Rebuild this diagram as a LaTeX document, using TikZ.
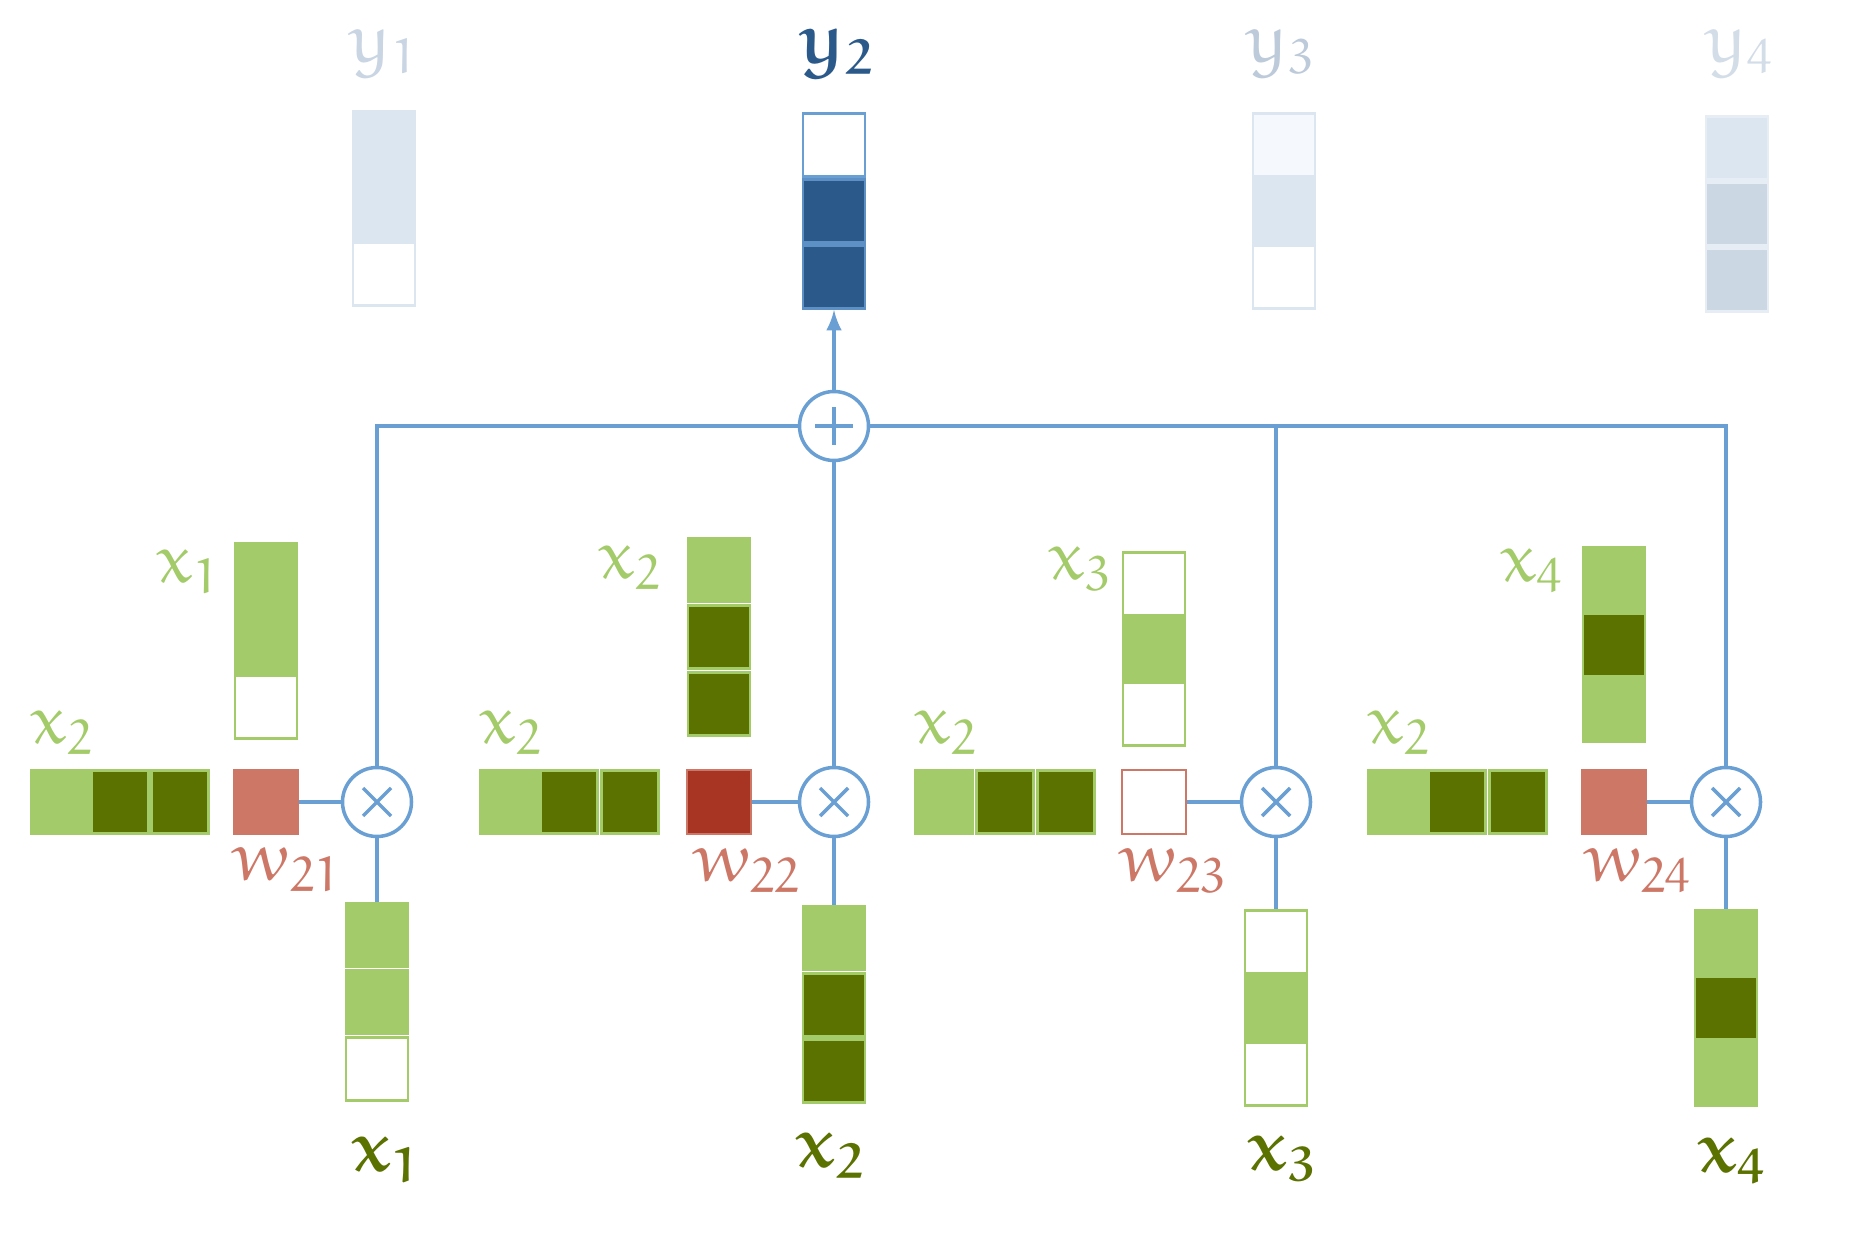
\documentclass[tikz,border=0pt]{standalone}
\usepackage{euler}
\usepackage{tikz}
\usetikzlibrary{arrows}
\usetikzlibrary{positioning}
\definecolor{lightG}{HTML}{A3CB69}
\definecolor{darkG}{HTML}{5B7100}
\definecolor{wireB}{HTML}{6A9FD4}
\definecolor{darkB}{HTML}{2B5A8A}
\definecolor{paleB}{HTML}{DCE6F1}
\definecolor{grayB}{HTML}{CBD7E3}
\definecolor{faintB}{HTML}{F5F9FD}
\definecolor{salmon}{HTML}{CD7767}
\definecolor{brick}{HTML}{A83424}
\definecolor{fadeA}{HTML}{C9D5E3}
\definecolor{fadeB}{HTML}{BCCAD9}
\definecolor{fadeC}{HTML}{D3DDE8}
\tikzset{cell/.style={rectangle,inner sep=0pt,minimum width=.62cm,minimum height=.63cm,line width=.8pt},
		lightCell/.style={cell,fill=lightG,draw=lightG},
		darkCell/.style={cell,fill=darkG,draw=lightG},
		emptyCell/.style={cell,fill=white,draw=lightG},
		hLight/.style={lightCell,minimum width=.57cm},
		hDark/.style={darkCell,minimum width=.57cm},
		weight/.style={rectangle,inner sep=0pt,minimum size=.64cm,line width=.8pt,draw=salmon},
		outCell/.style={cell,draw=paleB},
		mult/.style={circle,draw=wireB,fill=white,line width=1pt,minimum size=.69cm,inner sep=0pt,
			path picture={\draw[wireB,line width=1pt] (path picture bounding box.center) ++(-.14,-.14) -- ++(.28,.28)
				(path picture bounding box.center) ++(-.14,.14) -- ++(.28,-.28);}},
		sum/.style={mult,path picture={\draw[wireB,line width=1pt] (path picture bounding box.center) ++(-.19,0) -- ++(.38,0)
				(path picture bounding box.center) ++(0,-.19) -- ++(0,.38);}},
		wire/.style={draw=wireB,line width=1pt},
		lab/.style={inner sep=0pt,font=\fontsize{20}{24}\selectfont},
		boldLab/.style={inner sep=0pt,font=\fontsize{20}{24}\selectfont\boldmath}}
\begin{document}
\begin{tikzpicture}
	\useasboundingbox (0,0) rectangle (18.54,12.38);
	%outputs
	\node at (3.84,10.95) [outCell,fill=paleB] (y11){};
	\node at (3.84,10.29) [outCell,fill=paleB] (y12){};
	\node at (3.84,9.64) [outCell,fill=white] (y13){};
	\node at (8.34,10.93) [outCell,fill=white,draw=wireB] (y21){};
	\node at (8.34,10.27) [outCell,fill=darkB,draw=wireB!80!darkB] (y22){};
	\node at (8.34,9.61) [outCell,fill=darkB,draw=wireB!80!darkB] (y23){};
	\node at (12.84,10.93) [outCell,fill=faintB] (y31){};
	\node at (12.84,10.27) [outCell,fill=paleB] (y32){};
	\node at (12.84,9.61) [outCell,fill=white] (y33){};
	\node at (17.37,10.90) [outCell,fill=paleB,draw=paleB!70] (y41){};
	\node at (17.37,10.24) [outCell,fill=grayB,draw=paleB!70] (y42){};
	\node at (17.37,9.58) [outCell,fill=grayB,draw=paleB!70] (y43){};
	\node at (3.84,11.85) [lab,text=fadeA] (ly1){$y_1$};
	\node at (8.36,11.85) [boldLab,text=darkB] (ly2){$y_2$};
	\node at (12.81,11.85) [lab,text=fadeB] (ly3){$y_3$};
	\node at (17.40,11.85) [lab,text=fadeC] (ly4){$y_4$};
	\node at (8.34,8.12) [sum] (s){};

	%first column
	\node at (0.60,4.36) [hLight] (h11){};
	\node at (1.20,4.36) [hDark] (h12){};
	\node at (1.80,4.36) [hDark] (h13){};
	\node at (2.66,4.36) [weight,fill=salmon] (w1){};
	\node at (2.66,6.63) [lightCell] (t11){};
	\node at (2.66,5.97) [lightCell] (t12){};
	\node at (2.66,5.31) [emptyCell] (t13){};
	\node at (3.77,4.36) [mult] (m1){};
	\node at (3.77,3.03) [lightCell] (b11){};
	\node at (3.77,2.36) [lightCell] (b12){};
	\node at (3.77,1.69) [emptyCell] (b13){};
	\node at (0.62,5.05) [lab,text=lightG] (lh1){$x_2$};
	\node at (1.88,6.66) [lab,text=lightG] (lt1){$x_1$};
	\node at (2.87,3.68) [lab,text=salmon] (lw1){$w_{21}$};
	\node at (3.87,0.78) [boldLab,text=darkG] (lb1){$x_1$};

	%second column
	\node at (5.09,4.36) [hLight] (h21){};
	\node at (5.69,4.36) [hDark] (h22){};
	\node at (6.30,4.36) [hDark] (h23){};
	\node at (7.19,4.36) [weight,fill=brick] (w2){};
	\node at (7.19,6.68) [lightCell] (t21){};
	\node at (7.19,6.01) [darkCell] (t22){};
	\node at (7.19,5.34) [darkCell] (t23){};
	\node at (8.34,4.36) [mult] (m2){};
	\node at (8.34,3.00) [lightCell] (b21){};
	\node at (8.34,2.33) [darkCell] (b22){};
	\node at (8.34,1.67) [darkCell] (b23){};
	\node at (5.11,5.05) [lab,text=lightG] (lh2){$x_2$};
	\node at (6.30,6.70) [lab,text=lightG] (lt2){$x_2$};
	\node at (7.47,3.67) [lab,text=salmon] (lw2){$w_{22}$};
	\node at (8.31,0.82) [boldLab,text=darkG] (lb2){$x_2$};

	%third column
	\node at (9.44,4.36) [hLight] (h31){};
	\node at (10.05,4.36) [hDark] (h32){};
	\node at (10.66,4.36) [hDark] (h33){};
	\node at (11.54,4.36) [weight,fill=white] (w3){};
	\node at (11.54,6.54) [emptyCell] (t31){};
	\node at (11.54,5.89) [lightCell] (t32){};
	\node at (11.54,5.24) [emptyCell] (t33){};
	\node at (12.76,4.36) [mult] (m3){};
	\node at (12.76,2.96) [emptyCell] (b31){};
	\node at (12.76,2.30) [lightCell] (b32){};
	\node at (12.76,1.64) [emptyCell] (b33){};
	\node at (9.46,5.05) [lab,text=lightG] (lh3){$x_2$};
	\node at (10.80,6.69) [lab,text=lightG] (lt3){$x_3$};
	\node at (11.73,3.67) [lab,text=salmon] (lw3){$w_{23}$};
	\node at (12.83,0.79) [boldLab,text=darkG] (lb3){$x_3$};

	%fourth column
	\node at (13.97,4.36) [hLight] (h41){};
	\node at (14.57,4.36) [hDark] (h42){};
	\node at (15.18,4.36) [hDark] (h43){};
	\node at (16.14,4.36) [weight,fill=salmon] (w4){};
	\node at (16.14,6.59) [lightCell] (t41){};
	\node at (16.14,5.93) [darkCell] (t42){};
	\node at (16.14,5.28) [lightCell] (t43){};
	\node at (17.26,4.36) [mult] (m4){};
	\node at (17.26,2.96) [lightCell] (b41){};
	\node at (17.26,2.30) [darkCell] (b42){};
	\node at (17.26,1.64) [lightCell] (b43){};
	\node at (13.99,5.05) [lab,text=lightG] (lh4){$x_2$};
	\node at (15.32,6.67) [lab,text=lightG] (lt4){$x_4$};
	\node at (16.38,3.67) [lab,text=salmon] (lw4){$w_{24}$};
	\node at (17.33,0.77) [boldLab,text=darkG] (lb4){$x_4$};

	\coordinate (j3) at (m3 |- s);
	\draw[wire] (w1) -- (m1);
	\draw[wire] (w2) -- (m2);
	\draw[wire] (w3) -- (m3);
	\draw[wire] (w4) -- (m4);
	\draw[wire] (m1) -- (b11);
	\draw[wire] (m2) -- (b21);
	\draw[wire] (m3) -- (b31);
	\draw[wire] (m4) -- (b41);
	\draw[wire] (m1) |- (s);
	\draw[wire] (s) -| (m4);
	\draw[wire] (m2) -- (s);
	\draw[wire] (m3) -- (j3);
	\draw[wire,-latex] (s) -- (y23);
\end{tikzpicture}
\end{document}
